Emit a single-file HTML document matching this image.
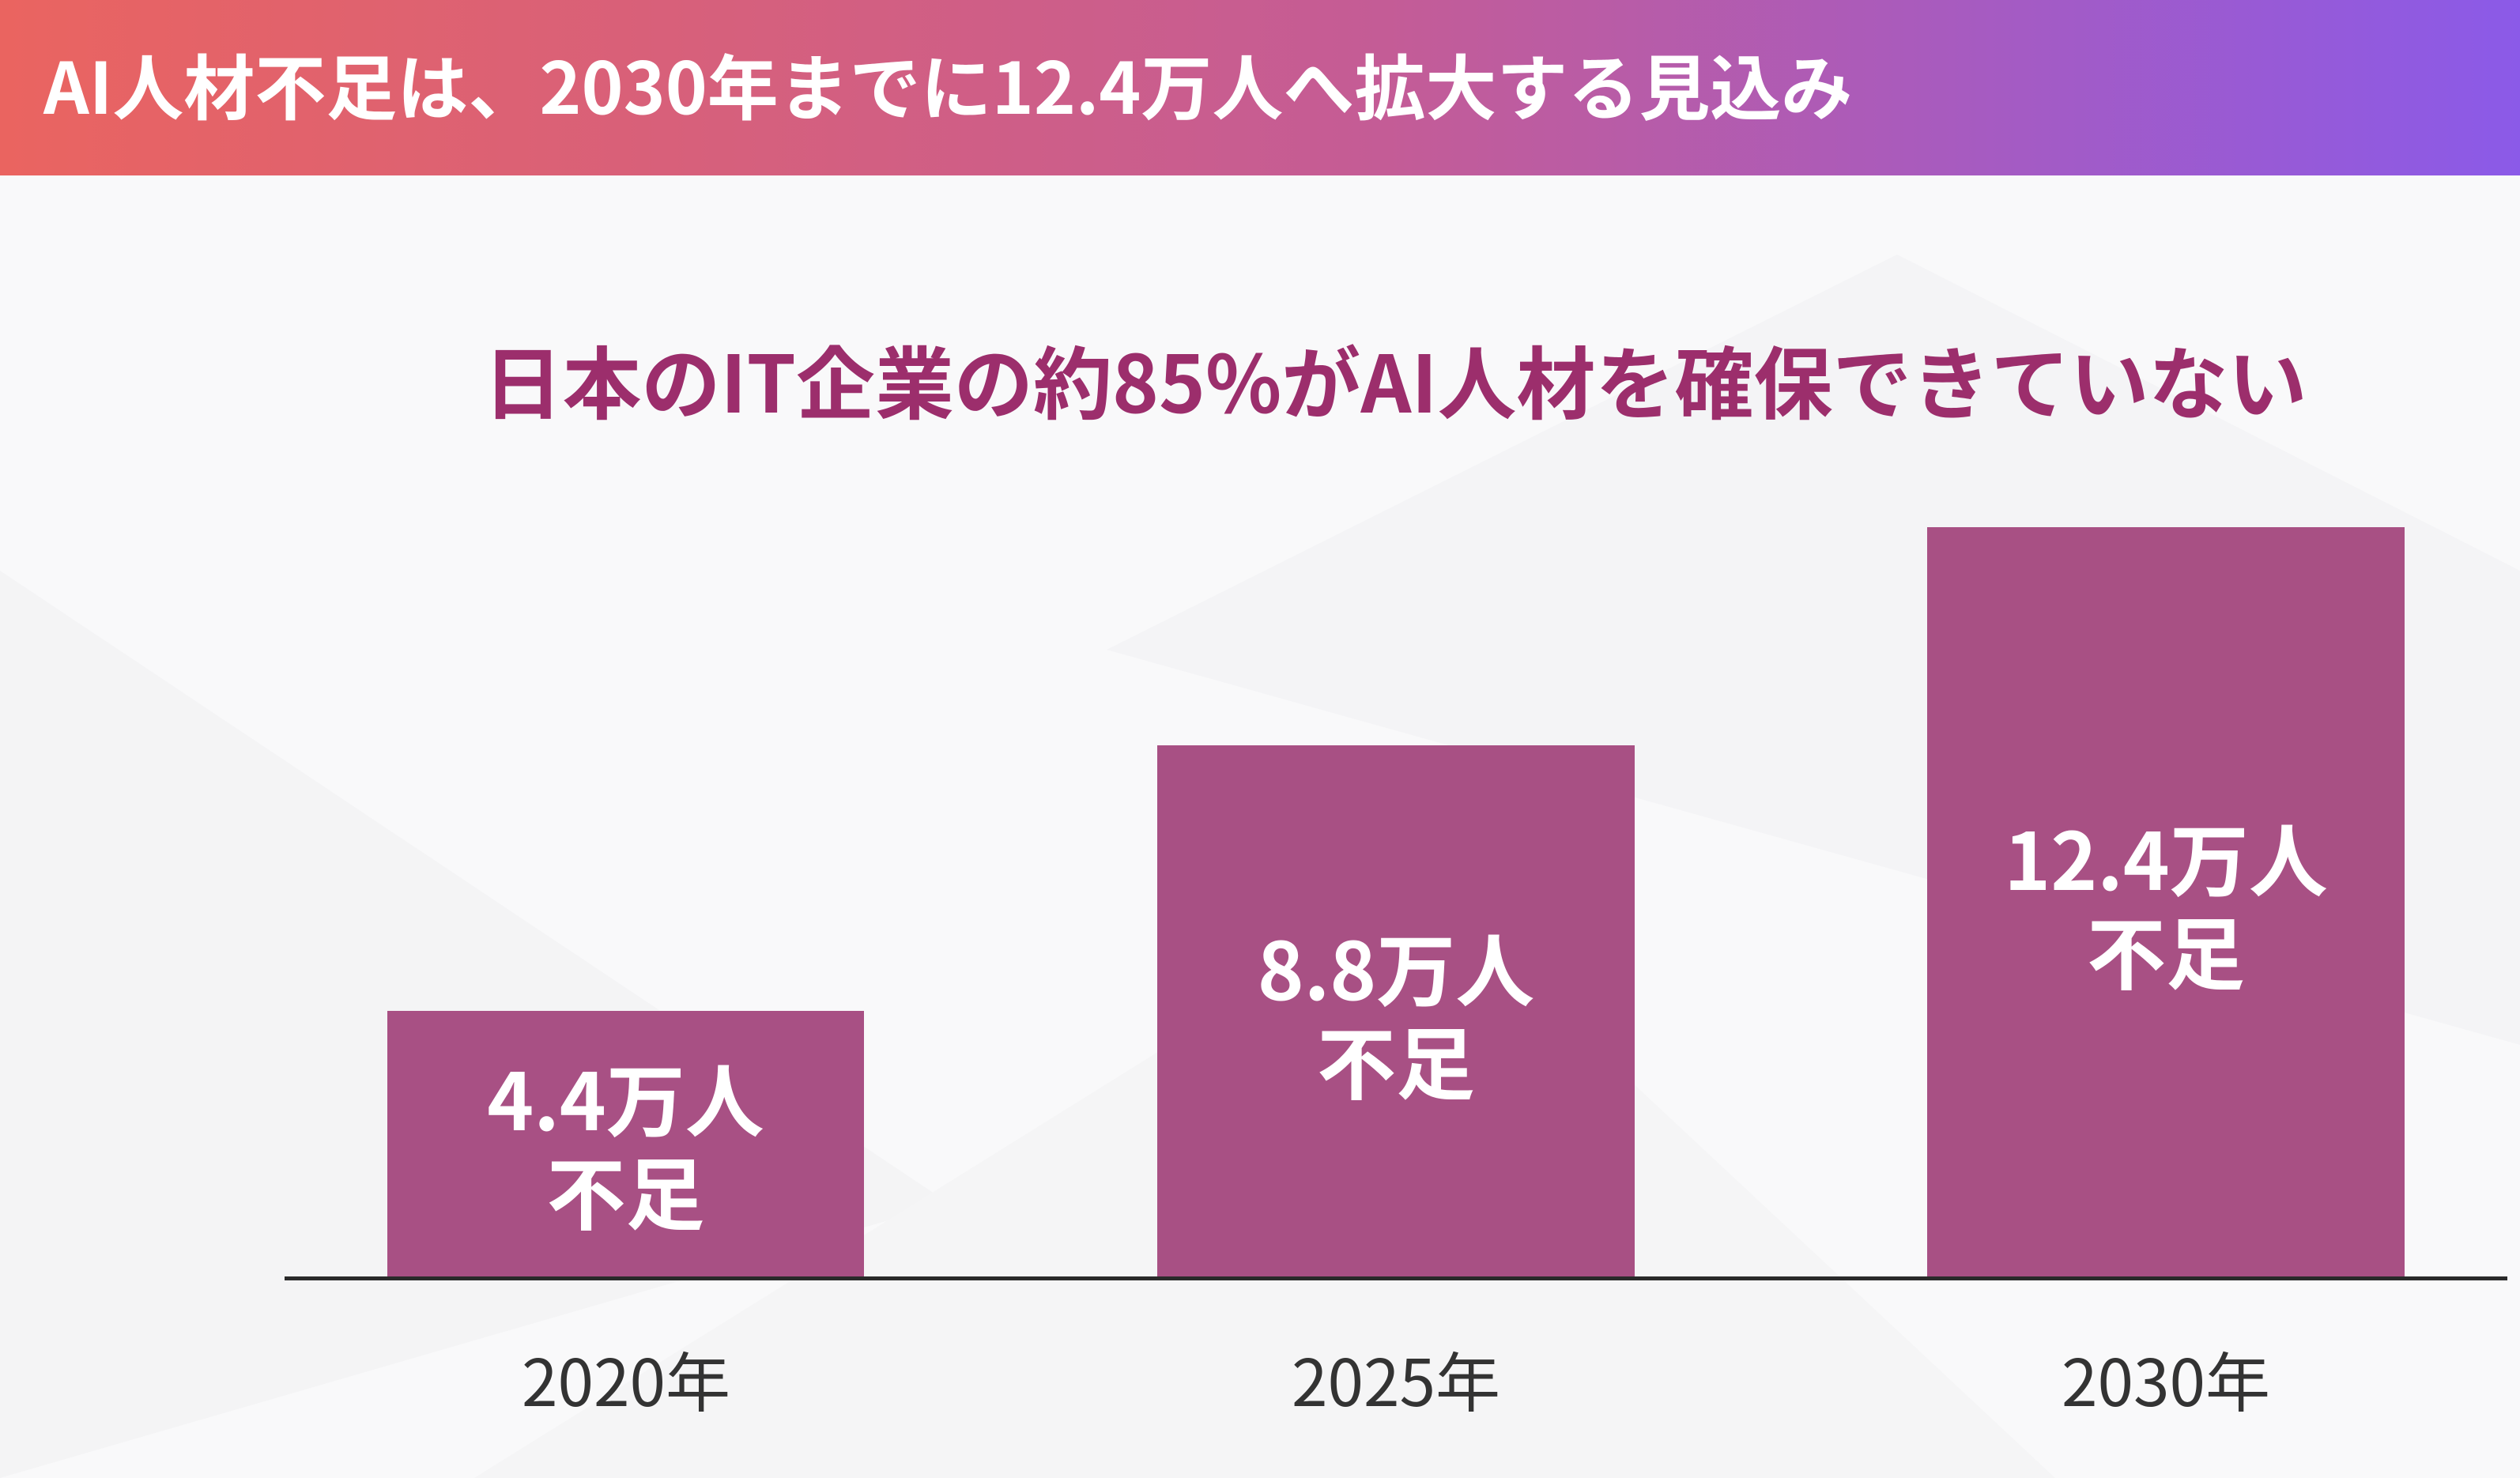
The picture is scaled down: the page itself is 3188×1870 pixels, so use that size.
<!DOCTYPE html>
<html><head><meta charset="utf-8"><style>
body{margin:0;width:3188px;height:1870px;position:relative;overflow:hidden;background:#f9f9fa;font-family:"Noto Sans CJK JP","Liberation Sans",sans-serif;}
.hdr{position:absolute;left:0;top:0;width:3188px;height:222px;background:linear-gradient(90deg,#ea6460,#c45c96 55%,#8b5ae8);}
.hdr div{position:absolute;left:55px;top:47px;font-size:90px;font-weight:bold;color:#fff;white-space:nowrap;line-height:117px;}
.sub{position:absolute;left:0;width:3530px;top:414px;text-align:center;font-size:100px;font-weight:bold;color:#9c2e6c;white-space:nowrap;line-height:130px;}
.bar{position:absolute;background:#a85084;color:#fff;font-weight:bold;font-size:100px;text-align:center;line-height:118px;}
.axis{position:absolute;left:360px;top:1615px;width:2812px;height:5px;background:#2a2a2a;}
.yr{position:absolute;top:1694px;width:604px;text-align:center;font-size:82px;color:#333;line-height:100px;}
</style></head><body>
<svg style="position:absolute;left:0;top:222px" width="3188" height="1648">
<polygon points="0,500 1200,1300 0,1648" fill="#f4f4f5"/>
<polygon points="1400,600 2400,100 3188,500 3188,1100" fill="#f4f4f6"/>
<polygon points="600,1648 1800,900 2600,1648" fill="#f5f5f6"/>
</svg>
<div class="hdr"><div>AI人材不足は、2030年までに12.4万人へ拡大する見込み</div></div>
<div class="sub">日本のIT企業の約85%がAI人材を確保できていない</div>
<div class="bar" style="left:490px;top:1279px;width:603px;height:338px;"><div style="padding-top:49px">4.4万人<br>不足</div></div>
<div class="bar" style="left:1464px;top:943px;width:604px;height:674px;"><div style="padding-top:220px">8.8万人<br>不足</div></div>
<div class="bar" style="left:2438px;top:667px;width:604px;height:950px;"><div style="padding-top:357px">12.4万人<br>不足</div></div>
<div class="axis"></div>
<div class="yr" style="left:490px">2020年</div>
<div class="yr" style="left:1464px">2025年</div>
<div class="yr" style="left:2438px">2030年</div>
</body></html>
